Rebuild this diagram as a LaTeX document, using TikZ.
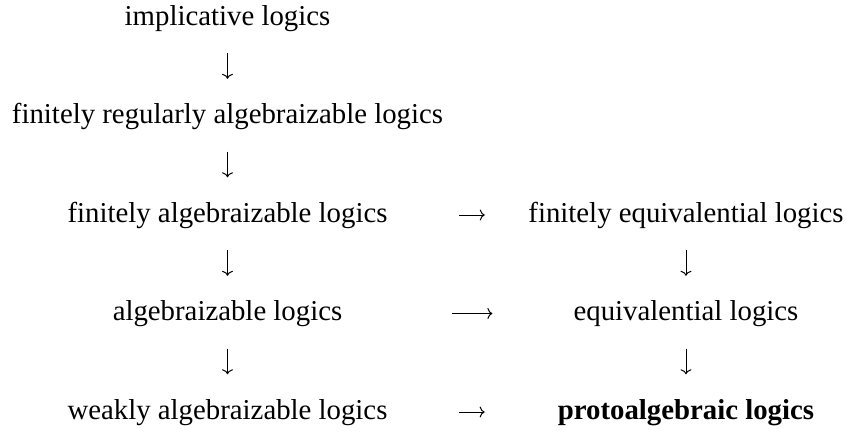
\documentclass[tikz,border=0pt]{standalone}
\usepackage{fontspec}
\setmainfont{Liberation Serif}
\usetikzlibrary{arrows.meta}

\tikzset{
  logic/.style={font=\fontsize{28.8}{34}\selectfont, inner sep=0pt,
    text height=20pt, text depth=6pt, anchor=base},
  arr/.style={-{Computer Modern Rightarrow[width=11pt,length=5pt]}, line width=1pt},
  vdown/.style={arr, shorten <=22pt, shorten >=24.5pt},
}

\begin{document}
\begin{tikzpicture}[x=1pt, y=-1pt]
  \path[use as bounding box] (0,0) rectangle (847,432);

  % left column
  \node[logic] (imp)   at (227.5,25)    {implicative logics};
  \node[logic] (frAlg) at (227.5,123.5) {finitely regularly algebraizable logics};
  \node[logic] (fAlg)  at (227.5,222)   {finitely algebraizable logics};
  \node[logic] (alg)   at (227.5,320.5) {algebraizable logics};
  \node[logic] (wAlg)  at (227.5,419)   {weakly algebraizable logics};

  % right column
  \node[logic] (fEq)   at (686,222)     {finitely equivalential logics};
  \node[logic] (eq)    at (686,320.5)   {equivalential logics};
  \node[logic] (proto) at (686,419)     {\bfseries protoalgebraic logics};

  % vertical inclusions
  \draw[vdown] (imp.south)   -- (frAlg.north);
  \draw[vdown] (frAlg.south) -- (fAlg.north);
  \draw[vdown] (fAlg.south)  -- (alg.north);
  \draw[vdown] (alg.south)   -- (wAlg.north);
  \draw[vdown] (fEq.south)   -- (eq.north);
  \draw[vdown] (eq.south)    -- (proto.north);

  % horizontal inclusions
  \draw[arr, shorten <=71.5pt, shorten >=43.5pt] (fAlg.east) -- (fEq.west);
  \draw[arr, shorten <=110pt,  shorten >=81pt]   (alg.east)  -- (eq.west);
  \draw[arr, shorten <=71.5pt, shorten >=73pt]   (wAlg.east) -- (proto.west);
\end{tikzpicture}
\end{document}
